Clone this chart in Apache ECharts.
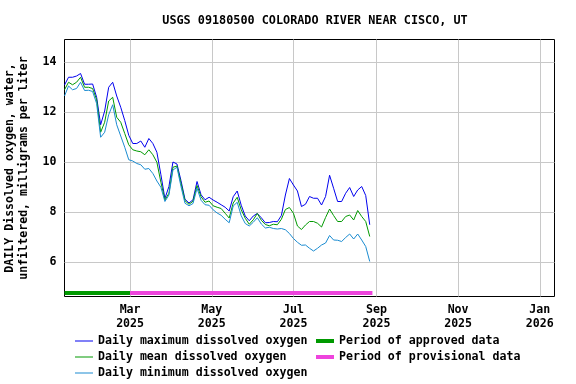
<!DOCTYPE html>
<html>
<head>
<meta charset="utf-8">
<script src="https://cdn.jsdelivr.net/npm/echarts@6/dist/echarts.min.js"></script>
<style>
  html, body { margin: 0; padding: 0; background: #fff; }
  #chart { width: 576px; height: 384px; }
</style>
</head>
<body>
<div id="chart"></div>
<script>
// sample dates (every third day) and daily values, mg/L
const dates = [
  '2025-01-11', '2025-01-14', '2025-01-17', '2025-01-20', '2025-01-23', '2025-01-26', '2025-01-29', '2025-02-01', '2025-02-04', '2025-02-07',
  '2025-02-10', '2025-02-13', '2025-02-16', '2025-02-19', '2025-02-22', '2025-02-25', '2025-02-28', '2025-03-03', '2025-03-06', '2025-03-09',
  '2025-03-12', '2025-03-15', '2025-03-18', '2025-03-21', '2025-03-24', '2025-03-27', '2025-03-30', '2025-04-02', '2025-04-05', '2025-04-08',
  '2025-04-11', '2025-04-14', '2025-04-17', '2025-04-20', '2025-04-23', '2025-04-26', '2025-04-29', '2025-05-02', '2025-05-05', '2025-05-08',
  '2025-05-11', '2025-05-14', '2025-05-17', '2025-05-20', '2025-05-23', '2025-05-26', '2025-05-29', '2025-06-01', '2025-06-04', '2025-06-07',
  '2025-06-10', '2025-06-13', '2025-06-16', '2025-06-19', '2025-06-22', '2025-06-25', '2025-06-28', '2025-07-01', '2025-07-04', '2025-07-07',
  '2025-07-10', '2025-07-13', '2025-07-16', '2025-07-19', '2025-07-22', '2025-07-25', '2025-07-28', '2025-07-31', '2025-08-03', '2025-08-06',
  '2025-08-09', '2025-08-12', '2025-08-15', '2025-08-18', '2025-08-21', '2025-08-24', '2025-08-27'
]
const maxDO = [
  13.09, 13.40, 13.40, 13.45, 13.55, 13.12, 13.12, 13.13, 12.60, 11.50,
  12.05, 13.00, 13.20, 12.65, 12.20, 11.67, 11.08, 10.75, 10.75, 10.85,
  10.60, 10.95, 10.75, 10.40, 9.50, 8.55, 9.03, 10.01, 9.93, 9.27,
  8.52, 8.37, 8.50, 9.23, 8.70, 8.50, 8.60, 8.49, 8.40, 8.30,
  8.20, 8.05, 8.62, 8.85, 8.28, 7.85, 7.66, 7.85, 7.95, 7.78,
  7.58, 7.59, 7.63, 7.62, 7.87, 8.69, 9.35, 9.09, 8.85, 8.23,
  8.32, 8.63, 8.56, 8.56, 8.29, 8.63, 9.48, 8.96, 8.43, 8.43,
  8.76, 8.99, 8.63, 8.89, 9.03, 8.67, 7.50
]
const meanDO = [
  12.90, 13.20, 13.10, 13.20, 13.40, 13.00, 13.00, 12.95, 12.50, 11.20,
  11.60, 12.45, 12.60, 11.80, 11.60, 11.15, 10.70, 10.50, 10.45, 10.42,
  10.30, 10.50, 10.30, 10.00, 9.20, 8.49, 8.76, 9.80, 9.85, 9.16,
  8.46, 8.32, 8.44, 9.07, 8.62, 8.40, 8.45, 8.26, 8.20, 8.15,
  7.96, 7.77, 8.37, 8.60, 8.10, 7.76, 7.52, 7.70, 7.95, 7.68,
  7.51, 7.46, 7.52, 7.50, 7.72, 8.11, 8.19, 7.96, 7.45, 7.31,
  7.49, 7.63, 7.63, 7.56, 7.41, 7.79, 8.13, 7.87, 7.63, 7.63,
  7.83, 7.89, 7.69, 8.07, 7.83, 7.63, 7.03
]
const minDO = [
  12.65, 13.05, 12.90, 12.95, 13.20, 12.87, 12.88, 12.83, 12.35, 11.00,
  11.20, 11.90, 12.30, 11.50, 11.05, 10.60, 10.10, 10.05, 9.95, 9.90,
  9.72, 9.75, 9.55, 9.25, 9.00, 8.43, 8.69, 9.69, 9.80, 9.03,
  8.36, 8.26, 8.35, 8.96, 8.48, 8.30, 8.28, 8.10, 7.97, 7.88,
  7.72, 7.58, 8.25, 8.40, 7.86, 7.55, 7.45, 7.60, 7.78, 7.53,
  7.37, 7.40, 7.35, 7.33, 7.35, 7.30, 7.15, 6.95, 6.80, 6.68,
  6.69, 6.56, 6.45, 6.56, 6.69, 6.77, 7.07, 6.89, 6.88, 6.83,
  6.99, 7.13, 6.93, 7.13, 6.89, 6.63, 6.03
]
const approvedPeriod = ['2025-01-11', '2025-03-01']
const provisionalPeriod = ['2025-03-01', '2025-08-29']

const xTickDates = ['2025-03-01', '2025-05-01', '2025-07-01', '2025-09-01', '2025-11-01', '2026-01-01']
const xTickLabels = ['Mar\n2025', 'May\n2025', 'Jul\n2025', 'Sep\n2025', 'Nov\n2025', 'Jan\n2026']
const yTicks = [6, 8, 10, 12, 14]

const FONT = 'DejaVu Sans Mono'
const toTime = d => new Date(d + 'T00:00:00').getTime()
const xTickValues = xTickDates.map(toTime)
const periodLevel = 4.77

const txt = { fontFamily: FONT, fontWeight: 'bold', fontSize: 11.6, color: '#000' }

const chart = echarts.init(document.getElementById('chart'))

const lineSeries = (name, values, color) => ({
  name,
  type: 'line',
  data: dates.map((d, i) => [toTime(d), values[i]]),
  symbol: 'none',
  lineStyle: { width: 1, color },
  itemStyle: { color },
  z: 3
})
const periodSeries = (name, period, color) => ({
  name,
  type: 'line',
  data: period.map(d => [toTime(d), periodLevel]),
  symbol: 'none',
  lineStyle: { width: 4, color },
  itemStyle: { color },
  z: 4
})

chart.setOption({
  animation: false,
  title: {
    text: 'USGS 09180500 COLORADO RIVER NEAR CISCO, UT',
    left: 310,
    top: 10,
    textAlign: 'center',
    textStyle: { ...txt, fontSize: 11.8 }
  },
  grid: {
    left: 64.5,
    right: 21.5,
    top: 39.5,
    bottom: 87.5,
    outerBoundsMode: 'none',
    containLabel: false,
    show: true,
    borderColor: '#000',
    borderWidth: 1
  },
  legend: [
    {
      orient: 'vertical',
      left: 75,
      top: 334,
      padding: 0,
      height: 50,
      icon: 'rect',
      itemWidth: 18,
      itemHeight: 1,
      itemGap: 2,
      textStyle: { ...txt, lineHeight: 14 },
      data: ['Daily maximum dissolved oxygen', 'Daily mean dissolved oxygen', 'Daily minimum dissolved oxygen']
    },
    {
      orient: 'vertical',
      left: 316,
      top: 334,
      padding: 0,
      height: 50,
      icon: 'rect',
      itemWidth: 18,
      itemHeight: 4,
      itemGap: 2,
      textStyle: { ...txt, lineHeight: 14 },
      data: ['Period of approved data', 'Period of provisional data']
    }
  ],
  xAxis: {
    type: 'value',
    min: toTime('2025-01-11'),
    max: toTime('2026-01-12'),
    axisLine: { show: false },
    axisTick: { show: false, customValues: xTickValues },
    axisLabel: {
      customValues: xTickValues,
      ...txt,
      lineHeight: 14,
      margin: 6,
      formatter: v => {
        const i = xTickValues.findIndex(t => Math.abs(t - v) < 86400000)
        return i >= 0 ? xTickLabels[i] : ''
      }
    },
    splitLine: { show: true, lineStyle: { color: '#c8c8c8', width: 1 } }
  },
  yAxis: {
    type: 'value',
    min: 4.63,
    max: 14.91,
    name: 'DAILY Dissolved oxygen, water,\nunfiltered, milligrams per liter',
    nameLocation: 'middle',
    nameRotate: 90,
    nameGap: 33,
    nameTextStyle: { ...txt, lineHeight: 14.5 },
    axisLine: { show: false },
    axisTick: { show: false, customValues: yTicks },
    axisLabel: { customValues: yTicks, ...txt, margin: 8 },
    splitLine: { show: true, lineStyle: { color: '#c8c8c8', width: 1 } }
  },
  series: [
    lineSeries('Daily maximum dissolved oxygen', maxDO, '#0000ee'),
    lineSeries('Daily mean dissolved oxygen', meanDO, '#009900'),
    lineSeries('Daily minimum dissolved oxygen', minDO, '#1a8bd0'),
    periodSeries('Period of approved data', approvedPeriod, '#009900'),
    periodSeries('Period of provisional data', provisionalPeriod, '#ee44dd')
  ]
})
</script>
</body>
</html>
